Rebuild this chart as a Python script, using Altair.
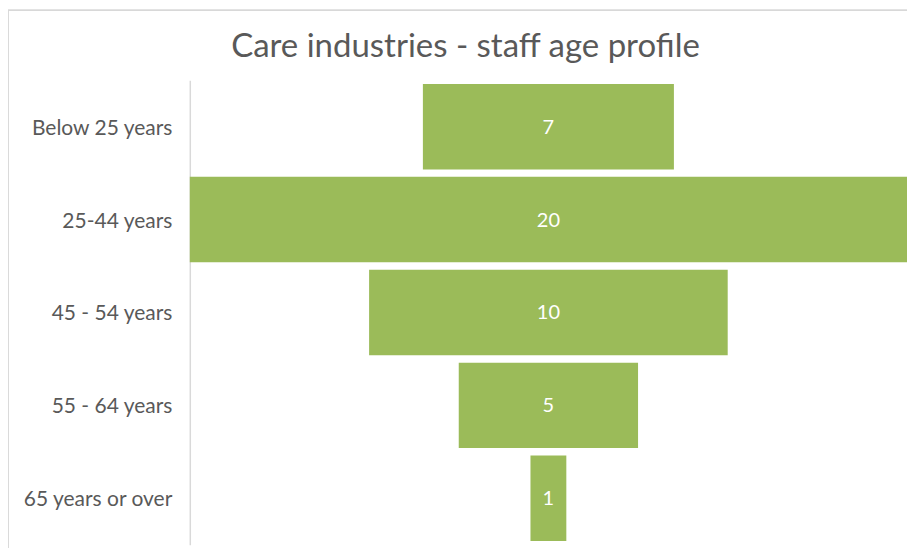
import altair as alt
import pandas as pd

categories = ["Below 25 years", "25-44 years", "45 - 54 years", "55 - 64 years", "65 years or over"]
values = [7, 20, 10, 5, 1]

df = pd.DataFrame({"age": categories, "staff": values})

FONT = "Lato"
GREY = "#595959"

base = alt.Chart(df).transform_calculate(
    lo="-datum.staff / 2", hi="datum.staff / 2", mid="0"
)

yenc = alt.Y(
    "age:N",
    sort=categories,
    title=None,
    scale=alt.Scale(paddingInner=0.08, paddingOuter=0.04),
    axis=alt.Axis(
        ticks=False,
        labelFontSize=21,
        labelColor=GREY,
        labelFont=FONT,
        labelPadding=18,
        labelOffset=2,
        domainColor="#d9d9d9",
        domainWidth=1.5,
        grid=False,
    ),
)

xscale = alt.Scale(domain=[-10, 10], nice=False, zero=False)

bars = base.mark_bar(color="#9bbb59").encode(
    x=alt.X("lo:Q", scale=xscale, axis=None),
    x2="hi:Q",
    y=yenc,
)

labels = base.mark_text(color="white", fontSize=20, font=FONT, dy=1).encode(
    x=alt.X("mid:Q", scale=xscale, axis=None),
    y=alt.Y("age:N", sort=categories),
    text="staff:Q",
)

border = alt.Chart(df).mark_rect(
    fill=None, stroke="#d9d9d9", strokeWidth=1
).encode(
    x=alt.value(-182), x2=alt.value(760), y=alt.value(-70), y2=alt.value(520)
)

chart = alt.layer(border, bars, labels).properties(
    width=718,
    height=465,
    autosize=alt.AutoSizeParams(type="none"),
    padding={"left": 182, "top": 72, "right": 0, "bottom": 3},
    title=alt.TitleParams(
        "Care industries - staff age profile",
        fontSize=33,
        font=FONT,
        fontWeight="normal",
        color=GREY,
        anchor="middle",
        dx=-83,
        offset=-54,
    ),
).configure_view(stroke=None)

chart.save("out.html", embed_options={"renderer": "svg", "actions": False})
